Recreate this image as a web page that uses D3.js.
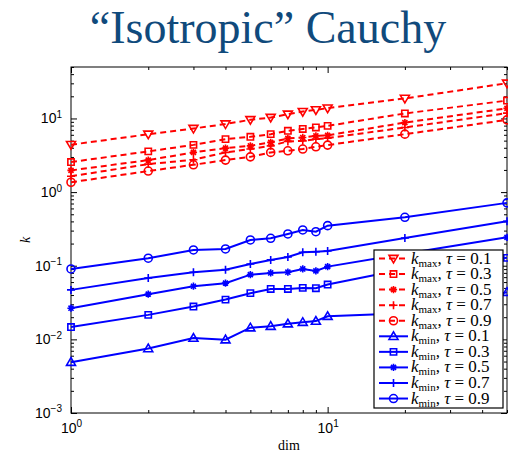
<!DOCTYPE html>
<html>
<head>
<meta charset="utf-8">
<script src="https://cdn.jsdelivr.net/npm/d3@7"></script>
<style>
  body { margin: 0; background: #fff; }
</style>
</head>
<body>
<div id="chart"></div>
<script>
// Dimensions on the x axis
const dims = [1, 2, 3, 4, 5, 6, 7, 8, 9, 10, 20, 50];
const taus = [0.1, 0.3, 0.5, 0.7, 0.9];

// k_max per tau
const kmax01 = [4.4, 6.1, 7.3, 8.4, 9.6, 10.3, 11.4, 12.4, 13.1, 13.8, 18.7, 30.1];
const kmax03 = [2.56, 3.57, 4.38, 5.24, 5.64, 6.12, 6.8, 7.2, 7.55, 7.94, 11.7, 17.5];
const kmax05 = [1.97, 2.72, 3.46, 3.96, 4.25, 4.73, 5.36, 5.52, 5.8, 5.9, 8.8, 13.7];
const kmax07 = [1.64, 2.4, 2.75, 3.46, 3.84, 4.25, 4.88, 4.97, 5.24, 5.41, 7.55, 11.8];
const kmax09 = [1.36, 1.93, 2.35, 2.72, 3.01, 3.46, 3.64, 3.84, 4.12, 4.35, 6.12, 9.57];

// k_min per tau
const kmin01 = [0.0049, 0.0075, 0.0104, 0.0099, 0.0144, 0.0151, 0.0163, 0.0171, 0.0177, 0.0206, 0.0227, 0.0437];
const kmin03 = [0.0147, 0.0215, 0.0279, 0.0347, 0.0424, 0.0484, 0.0484, 0.050, 0.0495, 0.0555, 0.090, 0.128];
const kmin05 = [0.0265, 0.0411, 0.0527, 0.058, 0.0757, 0.0798, 0.0817, 0.0905, 0.0851, 0.0973, 0.145, 0.243];
const kmin07 = [0.047, 0.0683, 0.0817, 0.0885, 0.1057, 0.120, 0.1316, 0.1524, 0.1552, 0.1585, 0.238, 0.401];
const kmin09 = [0.0905, 0.1265, 0.1637, 0.169, 0.224, 0.236, 0.270, 0.306, 0.290, 0.350, 0.455, 0.714];

const xMajor = [1, 10];
const xMinor = [2, 3, 4, 5, 6, 7, 8, 9, 20, 30, 40, 50];
const yMajor = [1e-3, 1e-2, 1e-1, 1, 10];
const yMinor = [];
[1e-3, 1e-2, 1e-1, 1, 10].forEach(p => {
  for (let m = 2; m <= 9; m++) if (p * m <= 50) yMinor.push(p * m);
});

const width = 508, height = 454;
const red = "#ff0000", blue = "#0000ff";

const series = [
  { sub: "max", tau: taus[0], values: kmax01, color: red, dash: "6,4", marker: "tridown" },
  { sub: "max", tau: taus[1], values: kmax03, color: red, dash: "6,4", marker: "square" },
  { sub: "max", tau: taus[2], values: kmax05, color: red, dash: "6,4", marker: "star" },
  { sub: "max", tau: taus[3], values: kmax07, color: red, dash: "6,4", marker: "plus" },
  { sub: "max", tau: taus[4], values: kmax09, color: red, dash: "6,4", marker: "circle" },
  { sub: "min", tau: taus[0], values: kmin01, color: blue, dash: null, marker: "triup" },
  { sub: "min", tau: taus[1], values: kmin03, color: blue, dash: null, marker: "square" },
  { sub: "min", tau: taus[2], values: kmin05, color: blue, dash: null, marker: "star" },
  { sub: "min", tau: taus[3], values: kmin07, color: blue, dash: null, marker: "plus" },
  { sub: "min", tau: taus[4], values: kmin09, color: blue, dash: null, marker: "circle" }
];

const svg = d3.select("#chart").append("svg")
  .attr("width", width)
  .attr("height", height)
  .style("background", "#fff");

const x = d3.scaleLog().domain([1, 50]).range([71, 507]);
const y = d3.scaleLog().domain([1e-3, 50]).range([413, 67]);

// Title
svg.append("text")
  .attr("x", 268)
  .attr("y", 43)
  .attr("text-anchor", "middle")
  .style("font-family", "'Liberation Serif', serif")
  .style("font-size", "46px")
  .style("fill", "#104a7c")
  .text("\u201CIsotropic\u201D Cauchy");

// Frame
svg.append("rect")
  .attr("x", x.range()[0])
  .attr("y", y.range()[1])
  .attr("width", x.range()[1] - x.range()[0])
  .attr("height", y.range()[0] - y.range()[1])
  .style("fill", "none")
  .style("stroke", "#000")
  .style("stroke-width", 1);

// Tick marks pointing inward, on all four sides
function ticks(axis, values, size, pos) {
  const g = svg.append("g").attr("transform", pos);
  g.call(axis.tickValues(values).tickSize(size).tickFormat(""));
  g.select(".domain").remove();
  g.selectAll(".tick line").style("stroke", "#000");
  return g;
}
ticks(d3.axisBottom(x), xMinor, -3, `translate(0,${y.range()[0]})`);
ticks(d3.axisTop(x), xMinor, -3, `translate(0,${y.range()[1]})`);
ticks(d3.axisTop(x), xMajor, -6, `translate(0,${y.range()[1]})`);
ticks(d3.axisLeft(y), yMinor, -3, `translate(${x.range()[0]},0)`);
ticks(d3.axisRight(y), yMinor, -3, `translate(${x.range()[1]},0)`);
ticks(d3.axisRight(y), yMajor, -6, `translate(${x.range()[1]},0)`);

// Power-of-ten labels
function powerLabels(g) {
  g.selectAll(".tick text").each(function(d) {
    const t = d3.select(this).text(null)
      .style("font-family", "'Liberation Sans', Arial, sans-serif")
      .style("font-size", "14px")
      .style("fill", "#000");
    t.append("tspan").text("10");
    t.append("tspan")
      .attr("dy", "-0.55em")
      .style("font-size", "10px")
      .text(String(Math.round(Math.log10(d))).replace("-", "\u2212"));
  });
}

const xAxis = svg.append("g")
  .attr("transform", `translate(0,${y.range()[0]})`)
  .call(d3.axisBottom(x).tickValues(xMajor).tickSize(-6).tickPadding(10).tickFormat(d => d));
xAxis.select(".domain").remove();
xAxis.selectAll(".tick line").style("stroke", "#000");
powerLabels(xAxis);

const yAxis = svg.append("g")
  .attr("transform", `translate(${x.range()[0]},0)`)
  .call(d3.axisLeft(y).tickValues(yMajor).tickSize(-6).tickPadding(9).tickFormat(d => d));
yAxis.select(".domain").remove();
yAxis.selectAll(".tick line").style("stroke", "#000");
powerLabels(yAxis);

// Axis titles
svg.append("text")
  .attr("x", 289)
  .attr("y", 450)
  .attr("text-anchor", "middle")
  .style("font-family", "'Liberation Serif', serif")
  .style("font-size", "14px")
  .text("dim");

svg.append("text")
  .attr("transform", "translate(30,240) rotate(-90)")
  .attr("text-anchor", "middle")
  .style("font-family", "'Liberation Serif', serif")
  .style("font-style", "italic")
  .style("font-size", "14px")
  .text("k");

// Marker shapes
function markerPath(type, s) {
  switch (type) {
    case "tridown": return `M${-s},${-s * 0.7}L${s},${-s * 0.7}L0,${s}Z`;
    case "triup": return `M${-s},${s * 0.7}L${s},${s * 0.7}L0,${-s}Z`;
    case "square": { const h = s * 0.75; return `M${-h},${-h}H${h}V${h}H${-h}Z`; }
    case "plus": return `M${-s},0H${s}M0,${-s}V${s}`;
    case "star": { const h = s * 0.7; return `M${-s},0H${s}M0,${-s}V${s}M${-h},${-h}L${h},${h}M${-h},${h}L${h},${-h}`; }
    case "circle": return `M${s},0A${s},${s} 0 1,1 ${-s},0A${s},${s} 0 1,1 ${s},0Z`;
  }
}
const markerSize = { tridown: 4.5, triup: 4.5, square: 4.2, plus: 4, star: 3.6, circle: 4 };

const line = d3.line()
  .x(d => x(d.dim))
  .y(d => y(d.k));

const seriesG = svg.selectAll(".series")
  .data(series)
  .enter()
  .append("g")
  .attr("class", "series");

seriesG.append("path")
  .attr("d", s => line(dims.map((dim, i) => ({ dim, k: s.values[i] }))))
  .style("fill", "none")
  .style("stroke", s => s.color)
  .style("stroke-width", 2)
  .style("stroke-dasharray", s => s.dash);

seriesG.each(function(s) {
  d3.select(this).selectAll(".mk")
    .data(dims.map((dim, i) => ({ dim, k: s.values[i] })))
    .enter()
    .append("path")
    .attr("class", "mk")
    .attr("transform", d => `translate(${x(d.dim)},${y(d.k)})`)
    .attr("d", markerPath(s.marker, markerSize[s.marker]))
    .style("fill", "none")
    .style("stroke", s.color)
    .style("stroke-width", 1.6);
});

// Legend
const legend = svg.append("g").attr("transform", "translate(374,250)");
legend.append("rect")
  .attr("width", 129)
  .attr("height", 158)
  .style("fill", "#fff")
  .style("stroke", "#000")
  .style("stroke-width", 1.2);

const rowH = 15.56;
const row = legend.selectAll(".row")
  .data(series)
  .enter()
  .append("g")
  .attr("class", "row")
  .attr("transform", (d, i) => `translate(0,${8.5 + i * rowH})`);

row.append("line")
  .attr("x1", 5).attr("x2", 34)
  .style("stroke", d => d.color)
  .style("stroke-width", 2)
  .style("stroke-dasharray", d => d.dash ? "6,4" : null);

row.append("path")
  .attr("transform", "translate(19.5,0)")
  .attr("d", d => markerPath(d.marker, markerSize[d.marker]))
  .style("fill", "none")
  .style("stroke", d => d.color)
  .style("stroke-width", 1.6);

const label = row.append("text")
  .attr("x", 37)
  .attr("y", 5)
  .style("font-family", "'Liberation Serif', serif")
  .style("font-size", "17px");
label.append("tspan").style("font-style", "italic").text("k");
label.append("tspan").attr("dy", 3).style("font-size", "11px").text(d => d.sub);
label.append("tspan").attr("dy", -3).text(", ");
label.append("tspan").style("font-style", "italic").text("\u03C4");
label.append("tspan").text(d => " = " + d.tau);
</script>
</body>
</html>
